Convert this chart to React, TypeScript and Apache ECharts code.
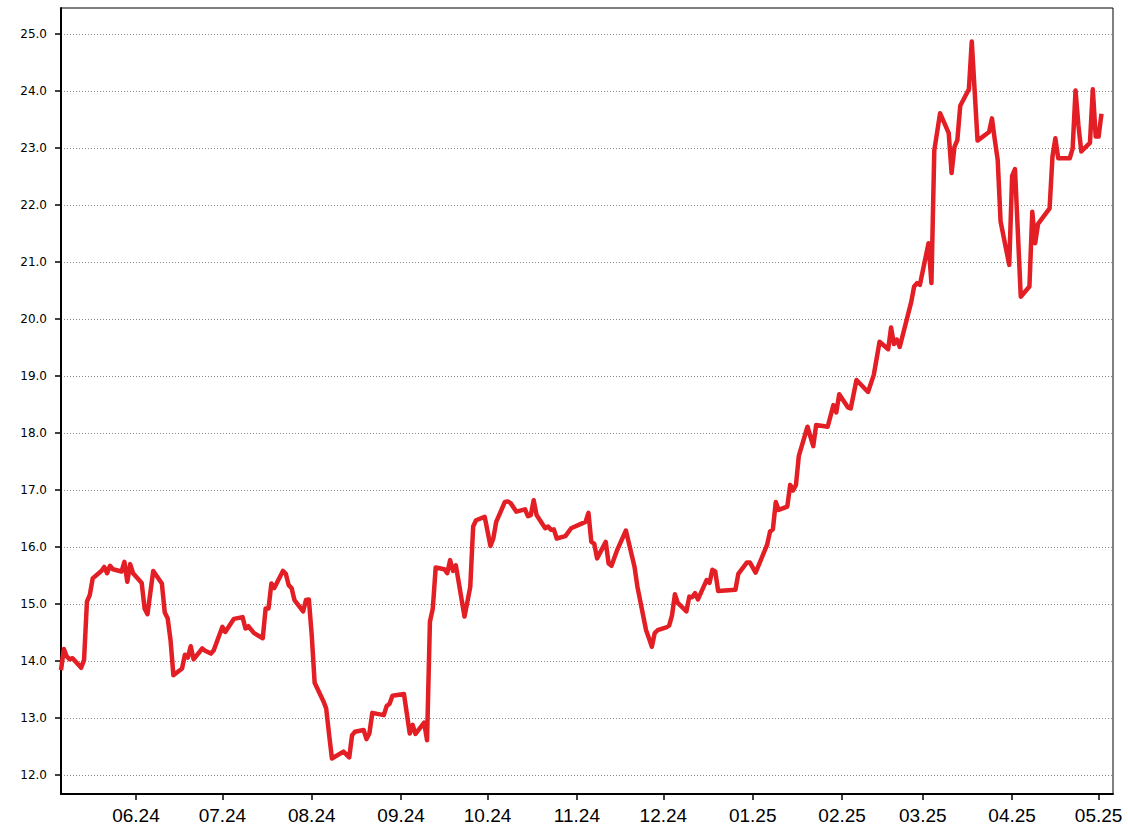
import React, { useEffect, useRef } from "react";
import * as echarts from "echarts";

const dates: string[] = [
  "2024-05-06","2024-05-07","2024-05-08","2024-05-09","2024-05-10","2024-05-13","2024-05-14","2024-05-15","2024-05-16","2024-05-17",
  "2024-05-20","2024-05-21","2024-05-22","2024-05-23","2024-05-24","2024-05-27","2024-05-28","2024-05-29","2024-05-30","2024-05-31",
  "2024-06-03","2024-06-04","2024-06-05","2024-06-07","2024-06-10","2024-06-11","2024-06-12","2024-06-13","2024-06-14",
  "2024-06-17","2024-06-18","2024-06-19","2024-06-20","2024-06-21","2024-06-24","2024-06-25","2024-06-27","2024-06-28",
  "2024-07-01","2024-07-02","2024-07-05","2024-07-08","2024-07-09","2024-07-10","2024-07-12","2024-07-15","2024-07-16","2024-07-17",
  "2024-07-18","2024-07-19","2024-07-22","2024-07-23","2024-07-24","2024-07-25","2024-07-26","2024-07-29","2024-07-30","2024-07-31",
  "2024-08-01","2024-08-02","2024-08-05","2024-08-06","2024-08-07","2024-08-08","2024-08-12","2024-08-14","2024-08-15","2024-08-16",
  "2024-08-19","2024-08-20","2024-08-21","2024-08-22","2024-08-26","2024-08-27","2024-08-28","2024-08-29",
  "2024-09-02","2024-09-04","2024-09-05","2024-09-06","2024-09-09","2024-09-10","2024-09-11","2024-09-12","2024-09-13",
  "2024-09-16","2024-09-17","2024-09-18","2024-09-19","2024-09-20","2024-09-23","2024-09-25","2024-09-26","2024-09-27","2024-09-30",
  "2024-10-02","2024-10-03","2024-10-04","2024-10-07","2024-10-08","2024-10-09","2024-10-11","2024-10-14","2024-10-15","2024-10-16",
  "2024-10-17","2024-10-18","2024-10-21","2024-10-22","2024-10-23","2024-10-24","2024-10-25","2024-10-28","2024-10-30",
  "2024-11-03","2024-11-04","2024-11-05","2024-11-06","2024-11-07","2024-11-08","2024-11-11","2024-11-12","2024-11-13","2024-11-15",
  "2024-11-18","2024-11-21","2024-11-22","2024-11-25","2024-11-26","2024-11-27","2024-11-28","2024-11-29",
  "2024-12-02","2024-12-03","2024-12-04","2024-12-05","2024-12-06","2024-12-09","2024-12-10","2024-12-11","2024-12-12","2024-12-13",
  "2024-12-16","2024-12-17","2024-12-18","2024-12-19","2024-12-20","2024-12-26","2024-12-27","2024-12-30","2024-12-31",
  "2025-01-02","2025-01-06","2025-01-07","2025-01-08","2025-01-09","2025-01-10","2025-01-13","2025-01-14","2025-01-15","2025-01-16",
  "2025-01-17","2025-01-20","2025-01-22","2025-01-23","2025-01-27","2025-01-29","2025-01-30","2025-01-31",
  "2025-02-03","2025-02-04","2025-02-06","2025-02-10","2025-02-12","2025-02-14","2025-02-17","2025-02-18","2025-02-19","2025-02-20",
  "2025-02-21","2025-02-25","2025-02-26","2025-02-27","2025-02-28",
  "2025-03-03","2025-03-04","2025-03-05","2025-03-07","2025-03-10","2025-03-11","2025-03-12","2025-03-13","2025-03-14","2025-03-17",
  "2025-03-18","2025-03-20","2025-03-24","2025-03-25","2025-03-26","2025-03-27","2025-03-28","2025-03-31",
  "2025-04-01","2025-04-02","2025-04-04","2025-04-07","2025-04-08","2025-04-09","2025-04-10","2025-04-14","2025-04-15","2025-04-16",
  "2025-04-17","2025-04-21","2025-04-22","2025-04-23","2025-04-24","2025-04-25","2025-04-28","2025-04-29","2025-04-30",
  "2025-05-01","2025-05-02"
];

const prices: number[] = [
  13.84,14.21,14.08,14.03,14.05,13.88,14.02,15.04,15.16,15.45,
  15.58,15.65,15.54,15.67,15.61,15.57,15.74,15.39,15.70,15.54,
  15.37,14.92,14.82,15.58,15.36,14.85,14.75,14.37,13.75,
  13.87,14.11,14.06,14.26,14.03,14.22,14.18,14.13,14.19,
  14.60,14.51,14.74,14.77,14.57,14.61,14.49,14.40,14.92,14.92,
  15.36,15.28,15.58,15.53,15.33,15.28,15.07,14.87,15.07,15.08,
  14.45,13.62,13.30,13.17,12.72,12.29,12.41,12.31,12.70,12.76,
  12.79,12.63,12.73,13.09,13.05,13.21,13.25,13.39,
  13.42,12.73,12.88,12.72,12.92,12.61,14.69,14.92,15.64,
  15.61,15.54,15.77,15.58,15.68,14.78,15.30,16.36,16.47,16.53,
  16.02,16.15,16.44,16.79,16.80,16.77,16.62,16.66,16.54,16.56,
  16.82,16.56,16.33,16.36,16.30,16.31,16.15,16.19,16.33,
  16.42,16.44,16.60,16.09,16.06,15.80,16.09,15.71,15.67,15.95,
  16.29,15.65,15.30,14.54,14.40,14.25,14.49,14.54,
  14.59,14.62,14.80,15.17,15.02,14.87,15.13,15.12,15.19,15.08,
  15.42,15.37,15.60,15.57,15.23,15.25,15.53,15.73,15.73,
  15.55,16.04,16.27,16.31,16.79,16.65,16.71,17.09,16.99,17.09,
  17.60,18.11,17.77,18.14,18.11,18.49,18.36,18.68,
  18.45,18.43,18.93,18.72,19.02,19.60,19.47,19.85,19.56,19.64,
  19.51,20.30,20.57,20.63,20.60,
  21.33,20.63,22.96,23.61,23.26,22.56,23.02,23.14,23.74,24.03,
  24.87,23.13,23.28,23.52,23.14,22.79,21.71,20.95,
  22.51,22.63,20.39,20.57,21.88,21.33,21.67,21.94,22.85,23.17,
  22.82,22.82,22.99,24.01,23.40,22.94,23.09,24.03,23.20,
  23.20,23.60
];

const monthTicks: string[] = [
  "2024-06-01","2024-07-01","2024-08-01","2024-09-01","2024-10-01","2024-11-01",
  "2024-12-01","2025-01-01","2025-02-01","2025-03-01","2025-04-01","2025-05-01"
];

const yTicks: number[] = [12, 13, 14, 15, 16, 17, 18, 19, 20, 21, 22, 23, 24, 25];

const xStart = "2024-05-06";
const xEnd = "2025-05-06";

function toTs(s: string): number {
  const [y, m, d] = s.split("-").map(Number);
  return new Date(y, m - 1, d).getTime();
}

export default function App() {
  const ref = useRef<HTMLDivElement>(null);
  useEffect(() => {
    if (!ref.current) return;
    const chart = echarts.init(ref.current, null, { renderer: "svg" });
    const data = dates.map((d, i) => [toTs(d), prices[i]]);
    const mTicks = monthTicks.map(toTs);
    chart.setOption({
      animation: false,
      backgroundColor: "#ffffff",
      grid: {
        left: 61,
        right: 15,
        top: 8,
        bottom: 42,
        show: true,
        borderColor: "#000",
        borderWidth: 1,
        backgroundColor: "transparent",
      },
      xAxis: {
        type: "value",
        scale: true,
        min: toTs(xStart),
        max: toTs(xEnd),
        axisLine: { show: true, onZero: false, lineStyle: { color: "#000", width: 2 } },
        axisTick: { show: true, length: 6, customValues: mTicks, lineStyle: { color: "#000", width: 1.5 } },
        axisLabel: {
          customValues: mTicks,
          margin: 12,
          fontSize: 19,
          fontFamily: "Liberation Sans, Arial, sans-serif",
          color: "#000",
          formatter: (v: number) => {
            const d = new Date(v);
            const mm = String(d.getMonth() + 1).padStart(2, "0");
            const yy = String(d.getFullYear() % 100).padStart(2, "0");
            return mm + "." + yy;
          },
        },
        splitLine: { show: false },
      },
      yAxis: {
        type: "value",
        min: 11.667,
        max: 25.456,
        axisLine: { show: true, onZero: false, lineStyle: { color: "#000", width: 2 } },
        axisTick: { show: true, length: 6, customValues: yTicks, lineStyle: { color: "#000", width: 1.5 } },
        axisLabel: {
          customValues: yTicks,
          margin: 14,
          fontSize: 12,
          fontFamily: "DejaVu Sans, Verdana, sans-serif",
          color: "#000",
          formatter: (v: number) => v.toFixed(1),
        },
        splitLine: { show: true, lineStyle: { color: "#8a8a8a", width: 1, type: [1, 2] } },
      },
      series: [
        {
          type: "line",
          data,
          symbol: "none",
          showSymbol: false,
          smooth: false,
          clip: true,
          lineStyle: { color: "#E31E24", width: 4.5, join: "round" },
        },
      ],
    });
    return () => chart.dispose();
  }, []);
  return (
    <div
      ref={ref}
      style={{ position: "fixed", left: 0, top: 0, width: "1128px", height: "836px", background: "#fff" }}
    />
  );
}
